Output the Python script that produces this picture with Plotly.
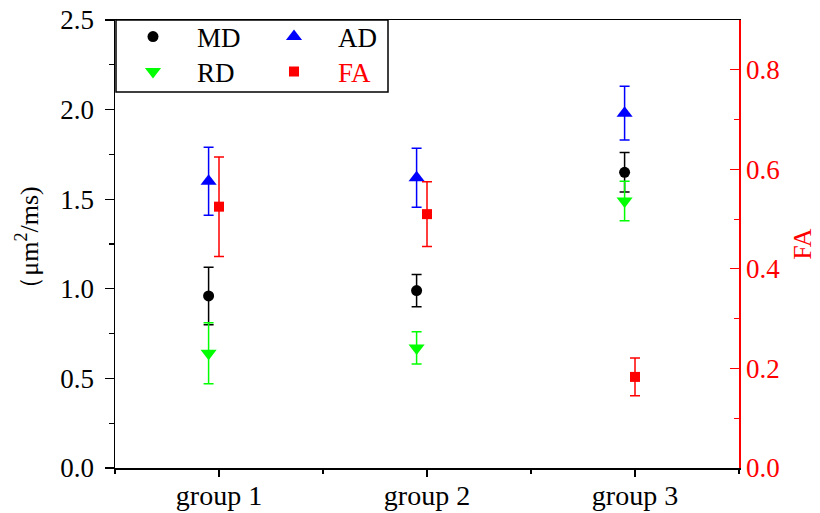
import plotly.graph_objects as go

groups = ["group 1", "group 2", "group 3"]
md = [0.96, 0.99, 1.65]
md_err = [0.16, 0.09, 0.11]
ad = [1.60, 1.62, 1.98]
ad_err = [0.19, 0.165, 0.15]
rd = [0.64, 0.67, 1.49]
rd_err = [0.17, 0.09, 0.11]
fa = [0.525, 0.51, 0.183]
fa_err = [0.10, 0.065, 0.038]

FONT = "Liberation Serif"
pos = [i + 1 for i in range(len(groups))]
shift = -0.05
pos_l = [p + shift for p in pos]

def series(x, y, err, name, color, symbol, size, legend, yaxis="y"):
    return go.Scatter(
        x=x, y=y, mode="markers", name=name, legend=legend, yaxis=yaxis,
        marker=dict(color=color, symbol=symbol, size=size, line=dict(width=0)),
        error_y=dict(type="data", array=err, visible=True, color=color,
                     thickness=1.5, width=5),
        cliponaxis=False,
    )

fig = go.Figure()
fig.add_trace(series(pos_l, md, md_err, "MD", "black", "circle", 11, "legend"))
fig.add_trace(series(pos_l, ad, ad_err, "AD", "#0000ff", "triangle-up", 14, "legend"))
fig.add_trace(series(pos_l, rd, rd_err, "RD", "#00ff00", "triangle-down", 14, "legend2"))
fig.add_trace(series(pos, fa, fa_err, "<span style='color:#ff0000'>FA</span>", "#ff0000",
                     "square", 10, "legend2", yaxis="y2"))

W, H = 820, 513
# plot area in page pixels
PL, PR, PT, PB = 115, 739, 20, 468
L, T, R, B = PL, PT, W - PR, H - PB
pw, ph = PR - PL, PB - PT

def px_to_paper_x(x):
    return (x - PL) / pw

def px_to_paper_y(y):
    return (PB - y) / ph

legend_common = dict(
    orientation="h", xanchor="left", yanchor="middle",
    font=dict(family=FONT, size=27, color="black"),
    bgcolor="rgba(0,0,0,0)", borderwidth=0,
    itemwidth=78, entrywidth=48, entrywidthmode="pixels",
    itemclick=False, itemdoubleclick=False,
)

fig.update_layout(
    width=W, height=H,
    margin=dict(l=L, r=R, t=T, b=B, autoexpand=False),
    paper_bgcolor="white", plot_bgcolor="white",
    font=dict(family=FONT, size=26, color="black"),
    showlegend=True,
    legend=dict(x=px_to_paper_x(109), y=px_to_paper_y(37), **legend_common),
    legend2=dict(x=px_to_paper_x(109), y=px_to_paper_y(72), **legend_common),
    xaxis=dict(
        range=[0.5, 3.5], tickmode="array", tickvals=pos, ticktext=groups,
        showgrid=False, zeroline=False,
        showline=True, linecolor="black", linewidth=1.5, mirror=True,
        ticks="outside", ticklen=7, tickwidth=1.2, tickcolor="black",
        ticklabelstandoff=-5, ticklabeloverflow="allow",
        tickfont=dict(family=FONT, size=28, color="black"),
        minor=dict(tickvals=[0.5, 1.5, 2.5, 3.5], ticks="outside", ticklen=4,
                   tickwidth=1.2, tickcolor="black", showgrid=False),
    ),
    yaxis=dict(
        range=[0, 2.5], dtick=0.5, tickformat=".1f",
        showgrid=False, zeroline=False,
        showline=True, linecolor="black", linewidth=1.5, mirror=False,
        ticks="outside", ticklen=9, tickwidth=1.2, tickcolor="black",
        ticklabelstandoff=5, ticklabeloverflow="allow",
        tickfont=dict(family=FONT, size=27, color="black"),
        minor=dict(dtick=0.25, ticks="outside", ticklen=5, tickwidth=1.2,
                   tickcolor="black", showgrid=False),
        title=dict(text="（μm<sup>2</sup>/ms)", standoff=14,
                   font=dict(family=FONT, size=26, color="black")),
    ),
    yaxis2=dict(
        overlaying="y", side="right", range=[0, 0.9], dtick=0.2, tickformat=".1f",
        showgrid=False, zeroline=False,
        showline=True, linecolor="#ff0000", linewidth=1.5,
        ticks="inside", ticklen=9, tickwidth=1.2, tickcolor="#ff0000",
        ticklabelstandoff=0, ticklabeloverflow="allow",
        tickfont=dict(family=FONT, size=27, color="#ff0000"),
        minor=dict(dtick=0.1, ticks="inside", ticklen=5, tickwidth=1.2,
                   tickcolor="#ff0000", showgrid=False),
        title=dict(text="FA", standoff=13,
                   font=dict(family=FONT, size=26, color="#ff0000")),
    ),
    shapes=[dict(
        type="rect", xref="paper", yref="paper",
        x0=px_to_paper_x(116), x1=px_to_paper_x(388),
        y0=px_to_paper_y(92), y1=1,
        line=dict(color="black", width=1.5), fillcolor="rgba(0,0,0,0)",
        layer="above",
    )],
)

fig.write_html(
    "out.html",
    config={"displayModeBar": False, "staticPlot": True},
    post_script="document.body.style.margin='0';document.body.style.overflow='hidden';",
)
